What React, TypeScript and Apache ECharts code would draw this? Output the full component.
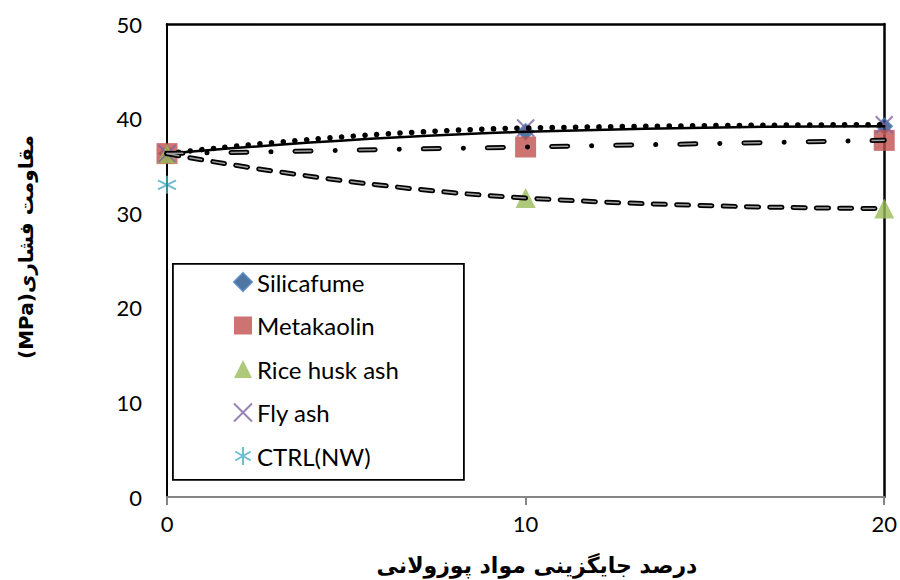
import React, { useEffect, useRef } from "react";
import * as echarts from "echarts";

// Replacement percentage of pozzolanic material (x) and compressive strength in MPa (y)
const replacementPct = [0, 10, 20];
const silicafume = [36.3, 38.6, 39.2];
const metakaolin = [36.3, 37.0, 37.7];
const riceHuskAsh = [36.3, 31.6, 30.5];
const flyAsh = [36.3, 39.0, 39.35];
const ctrlPct = [0];
const ctrlNW = [33.0];

const seriesNames = ["Silicafume", "Metakaolin", "Rice husk ash", "Fly ash", "CTRL(NW)"];
const xTitle = "درصد جایگزینی مواد پوزولانی";
const yTitle = "(MPa)مقاومت فشاری";

const pairs = (xs: number[], ys: number[]) => xs.map((x, i) => [x, ys[i]]);

const CROSS = "path://M0,0L10,10M10,0L0,10";
const ASTERISK = "path://M5,0L5,10M0.7,2.5L9.3,7.5M0.7,7.5L9.3,2.5";

const LATIN = "Lato, 'Open Sans', sans-serif";
const PERSIAN = "'DejaVu Sans', sans-serif";

export default function App() {
  const ref = useRef<HTMLDivElement>(null);

  useEffect(() => {
    document.body.style.margin = "0";
    if (!ref.current) return;
    const chart = echarts.init(ref.current, null, { renderer: "svg" });

    const trend = (name: string, ys: number[], lineStyle: any, z = 3) => ({
      type: "line",
      name,
      data: pairs(replacementPct, ys),
      smooth: true,
      symbol: "none",
      silent: true,
      z,
      lineStyle: { color: "#000", cap: "round", ...lineStyle },
    });

    chart.setOption({
      animation: false,
      backgroundColor: "#fff",
      grid: { left: 167, right: 15, top: 24, bottom: 83, containLabel: false },
      xAxis: [
        {
          type: "value",
          min: 0,
          max: 20,
          interval: 10,
          axisLine: { show: true, onZero: false, lineStyle: { color: "#868686", width: 2 } },
          axisTick: { show: true, length: 8, lineStyle: { color: "#868686", width: 2 } },
          axisLabel: { margin: 15, fontSize: 22, color: "#000", fontFamily: LATIN },
          splitLine: { show: false },
        },
        {
          type: "value",
          position: "top",
          min: 0,
          max: 20,
          interval: 10,
          axisLine: { show: true, onZero: false, lineStyle: { color: "#000", width: 2.5 } },
          axisTick: { show: false },
          axisLabel: { show: false },
          splitLine: { show: false },
        },
      ],
      yAxis: [
        {
          type: "value",
          min: 0,
          max: 50,
          interval: 10,
          axisLine: { show: true, onZero: false, lineStyle: { color: "#000", width: 2 } },
          axisTick: { show: false },
          axisLabel: { margin: 25, fontSize: 22, color: "#000", fontFamily: LATIN },
          splitLine: { show: false },
        },
        {
          type: "value",
          position: "right",
          min: 0,
          max: 50,
          interval: 10,
          axisLine: { show: true, onZero: false, lineStyle: { color: "#000", width: 2.5 } },
          axisTick: { show: false },
          axisLabel: { show: false },
          splitLine: { show: false },
        },
      ],
      legend: {
        data: seriesNames,
        orient: "vertical",
        left: 233,
        top: 270,
        itemWidth: 18,
        itemHeight: 18,
        itemGap: 19.5,
        itemTextGap: 6,
        padding: 0,
        z: 10,
        textStyle: { fontSize: 24, lineHeight: 24, color: "#000", fontFamily: LATIN },
      },
      graphic: [
        {
          type: "rect",
          left: 172,
          top: 263,
          z: 5,
          shape: { width: 291, height: 216 },
          style: { fill: "#fff", stroke: "#000", lineWidth: 1.8 },
        },
        {
          type: "text",
          x: 537,
          y: 565,
          style: {
            text: xTitle,
            fontSize: 22,
            fontWeight: "bold",
            fontFamily: PERSIAN,
            fill: "#000",
            align: "center",
            verticalAlign: "middle",
          },
        },
        {
          type: "text",
          x: 26,
          y: 247,
          rotation: Math.PI / 2,
          style: {
            text: yTitle,
            fontSize: 20,
            fontWeight: "bold",
            fontFamily: PERSIAN,
            fill: "#000",
            align: "center",
            verticalAlign: "middle",
          },
        },
      ],
      series: [
        {
          type: "scatter",
          name: "Silicafume",
          data: pairs(replacementPct, silicafume),
          symbol: "diamond",
          symbolSize: 16,
          z: 2,
          itemStyle: { color: "#24528a", borderColor: "#4f81bd", borderWidth: 1.5 },
        },
        {
          type: "scatter",
          name: "Metakaolin",
          data: pairs(replacementPct, metakaolin),
          symbol: "rect",
          symbolSize: 21,
          z: 2,
          itemStyle: { color: "#c0504d" },
        },
        {
          type: "scatter",
          name: "Rice husk ash",
          data: pairs(replacementPct, riceHuskAsh),
          symbol: "triangle",
          symbolSize: 20,
          z: 2,
          itemStyle: { color: "#9bbb59" },
        },
        {
          type: "scatter",
          name: "Fly ash",
          data: pairs(replacementPct, flyAsh),
          symbol: CROSS,
          symbolSize: 17,
          z: 2,
          itemStyle: { color: "#8064a2", borderColor: "#8064a2", borderWidth: 2 },
        },
        {
          type: "scatter",
          name: "CTRL(NW)",
          data: pairs(ctrlPct, ctrlNW),
          symbol: ASTERISK,
          symbolSize: 18,
          z: 2,
          itemStyle: { color: "#4bacc6", borderColor: "#4bacc6", borderWidth: 2 },
        },
        // black trend lines through each mixture's points
        trend("Silicafume trend", silicafume, { width: 2.5, type: "solid" }),
        trend("Fly ash trend", flyAsh, { width: 5.5, type: [0.1, 11.6] }),
        trend("Metakaolin trend", metakaolin, { width: 5, type: [16, 24, 0.1, 24] }),
        trend("Metakaolin trend core", metakaolin, { width: 1.5, color: "#a0a0a0", type: [16, 48.1] }, 4),
        trend("Rice husk ash trend", riceHuskAsh, { width: 5, type: [12, 11.3] }),
        trend("Rice husk ash trend core", riceHuskAsh, { width: 1.5, color: "#a0a0a0", type: [12, 11.3] }, 4),
      ],
    });

    return () => chart.dispose();
  }, []);

  return <div ref={ref} style={{ width: 900, height: 580 }} />;
}
